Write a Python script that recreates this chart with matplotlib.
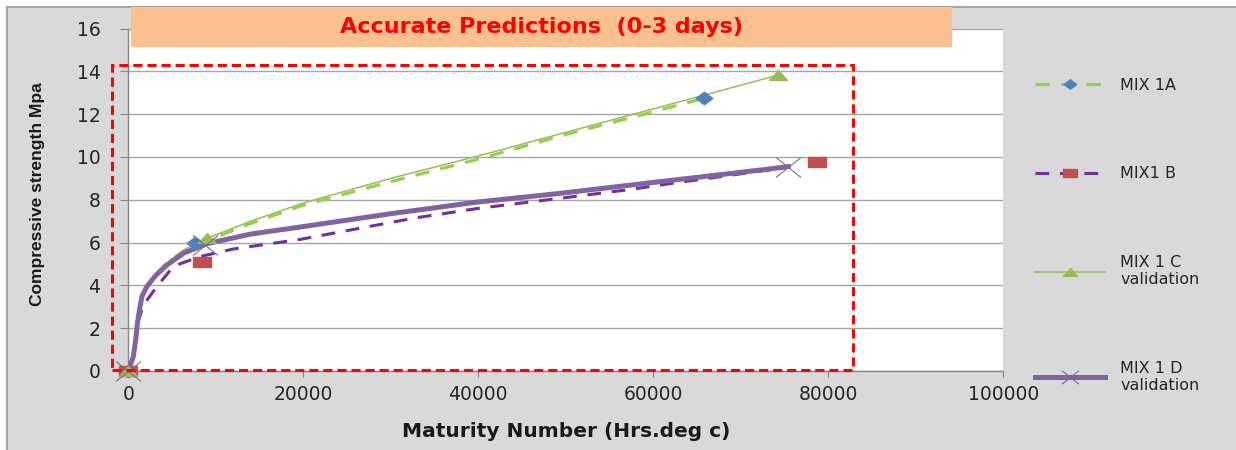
import matplotlib
matplotlib.use('Agg')
import matplotlib.pyplot as plt
from matplotlib.patches import Rectangle
from matplotlib.path import Path
import numpy as np

# curves (x = maturity, y = strength)
mix1a_x = [0, 570, 840, 1030, 1340, 1570, 2130, 3100, 4400, 6300, 7660, 10000, 14000, 20000, 30000, 40000, 50000, 58000, 65750]
mix1a_y = [0, 0.67, 1.45, 2.2, 3.0, 3.5, 3.95, 4.5, 5.05, 5.6, 5.95, 6.25, 6.9, 7.75, 8.85, 9.9, 11.05, 11.9, 12.74]
mix1a_mx = [0, 7660, 65750]
mix1a_my = [0, 6.0, 12.74]

mix1b_x = [0, 570, 840, 1100, 1750, 3280, 5180, 8230, 12000, 19650, 32600, 40000, 49330, 56960, 62670, 68000, 75000]
mix1b_y = [0, 0.67, 1.45, 2.3, 3.1, 3.95, 4.9, 5.35, 5.7, 6.15, 7.14, 7.6, 8.07, 8.46, 8.8, 9.1, 9.5]
mix1b_mx = [0, 8420, 78700]
mix1b_my = [0, 5.1, 9.78]

mix1c_x = [0, 570, 840, 1030, 1340, 1570, 2130, 3100, 4400, 6300, 9000, 14000, 20000, 30000, 40000, 50000, 60000, 74300]
mix1c_y = [0, 0.67, 1.45, 2.2, 3.0, 3.5, 3.95, 4.5, 5.05, 5.65, 6.2, 7.0, 7.85, 9.0, 10.05, 11.15, 12.25, 13.83]
mix1c_mx = [0, 9000, 74300]
mix1c_my = [0, 6.2, 13.83]

mix1d_x = [0, 570, 840, 1030, 1340, 1570, 2130, 3100, 4400, 6300, 9000, 14000, 20000, 30000, 40000, 49330, 60800, 72230, 75430]
mix1d_y = [0, 0.67, 1.45, 2.2, 3.0, 3.5, 3.95, 4.45, 4.95, 5.5, 5.95, 6.4, 6.75, 7.35, 7.9, 8.3, 8.85, 9.39, 9.55]
mix1d_mx = [0, 8800, 75430]
mix1d_my = [0, 5.9, 9.55]

labels = ['MIX 1A', 'MIX1 B', 'MIX 1 C\nvalidation', 'MIX 1 D\nvalidation']
x_ticks = [0, 20000, 40000, 60000, 80000, 100000]
y_ticks = [0, 2, 4, 6, 8, 10, 12, 14, 16]

# dashed highlight box (data units)
box_x0, box_x1 = -1860, 82860
box_y0, box_y1 = 0.05, 14.3

# wide markers (picture is stretched sideways)
sq = Path([(-1, -0.6), (1, -0.6), (1, 0.6), (-1, 0.6), (-1, -0.6)],
          [Path.MOVETO, Path.LINETO, Path.LINETO, Path.LINETO, Path.CLOSEPOLY])
tri = Path([(-1, -0.55), (1, -0.55), (0, 0.55), (-1, -0.55)],
           [Path.MOVETO, Path.LINETO, Path.LINETO, Path.CLOSEPOLY])
dia = Path([(-1, 0), (0, 0.75), (1, 0), (0, -0.75), (-1, 0)],
           [Path.MOVETO, Path.LINETO, Path.LINETO, Path.LINETO, Path.CLOSEPOLY])
cross = Path([(-1, -0.8), (1, 0.8), (-1, 0.8), (1, -0.8)],
             [Path.MOVETO, Path.LINETO, Path.MOVETO, Path.LINETO])

W, H = 1236, 450
fig = plt.figure(figsize=(W / 100, H / 100), dpi=100)
fig.patch.set_facecolor('white')
fig.patches.append(Rectangle((7 / W, -0.1), 1.1, 1.1 - 7 / H, transform=fig.transFigure,
                             facecolor='#d9d9d9', edgecolor='#a6a6a6', lw=1.5, zorder=-10))

ax = fig.add_axes([128.3 / W, 79 / H, 875 / W, 342.4 / H])
ax.set_facecolor('white')

green_d = '#92d050'
purple_d = '#7030a0'

# lines
ax.plot(mix1c_x, mix1c_y, color='#9bbb59', lw=1.1, zorder=3)
ax.plot(mix1a_x, mix1a_y, color=green_d, lw=2.3, dashes=(4.5, 3.5), zorder=3)
ax.plot(mix1b_x, mix1b_y, color=purple_d, lw=2.2, dashes=(4.5, 3.5), zorder=3)
ax.plot(mix1d_x, mix1d_y, color='#8064a2', lw=3.6, zorder=3)

# markers
ax.plot(mix1a_mx, mix1a_my, ls='', marker=dia, ms=12, color='#4f81bd', mec='#4f81bd', zorder=4, clip_on=False)
ax.plot(mix1b_mx, mix1b_my, ls='', marker=sq, ms=13, color='#c0504d', mec='#c0504d', zorder=4, clip_on=False)
ax.plot(mix1c_mx, mix1c_my, ls='', marker=tri, ms=13, color='#9bbb59', mec='#9bbb59', zorder=4, clip_on=False)
ax.plot(mix1d_mx, mix1d_my, ls='', marker=cross, ms=18, mfc='none', mec='#8064a2', mew=0.8, zorder=4, clip_on=False)

ax.set_xlim(0, 100000)
ax.set_ylim(0, 16)
ax.set_xticks(x_ticks)
ax.set_yticks(y_ticks)
ax.set_xticklabels([str(t) for t in x_ticks])
ax.grid(axis='y', color='#a6a6a6', lw=1.0)
ax.set_axisbelow(True)
for s in ['top', 'right']:
    ax.spines[s].set_visible(False)
for s in ['left', 'bottom']:
    ax.spines[s].set_color('#868686')
    ax.spines[s].set_linewidth(1.0)
ax.tick_params(axis='y', direction='out', length=6, color='#868686', labelsize=13.5, labelcolor='#262626', pad=14)
ax.tick_params(axis='x', direction='out', length=4, color='#868686', labelsize=13.5, labelcolor='#262626', pad=6)

ax.set_xlabel('Maturity Number (Hrs.deg c)', fontsize=14.5, fontweight='bold', color='#1a1a1a')
ax.xaxis.set_label_coords(0.5, -0.149)
ax.set_ylabel('Compressive strength Mpa', fontsize=12.5, fontweight='bold', color='#1a1a1a',
              family=['Liberation Sans', 'DejaVu Sans'])
ax.yaxis.set_label_coords(-0.0952, 0.517)

# red dashed highlight
ax.add_patch(Rectangle((box_x0, box_y0), box_x1 - box_x0, box_y1 - box_y0, fill=False,
                       edgecolor='#ff0000', lw=2.2, ls=(0, (3, 1.6)), clip_on=False, zorder=5))

# orange title banner
fig.patches.append(Rectangle((131 / W, 1 - 47 / H), (952 - 131) / W, 40 / H, transform=fig.transFigure,
                             facecolor='#fac090', edgecolor='none', zorder=5))
fig.text(541 / W, 1 - 27 / H, 'Accurate Predictions  (0-3 days)', ha='center', va='center',
         fontsize=16, fontweight='bold', color='#ff0000', zorder=6)

# legend
h_a, = ax.plot([], [], color=green_d, lw=2.3, dashes=(4.5, 3.5), marker=dia, ms=9, mfc='#4f81bd', mec='#4f81bd')
h_b, = ax.plot([], [], color=purple_d, lw=2.2, dashes=(4.5, 3.5), marker=sq, ms=10, mfc='#c0504d', mec='#c0504d')
h_c, = ax.plot([], [], color='#9bbb59', lw=1.1, marker=tri, ms=10, mfc='#9bbb59', mec='#9bbb59')
h_d, = ax.plot([], [], color='#8064a2', lw=3.6, marker=cross, ms=12, mfc='none', mec='#8064a2', mew=0.8)
leg = ax.legend([h_a, h_b, h_c, h_d], labels, loc='upper left',
                bbox_to_anchor=(1035 / W, 1 - 78 / H), bbox_transform=fig.transFigure,
                frameon=False, fontsize=11.5, numpoints=1, handlelength=4.4, handletextpad=0.95,
                borderpad=0, borderaxespad=0, labelspacing=4.6)
for t in leg.get_texts():
    t.set_color('#262626')

fig.savefig('out.png', dpi=100, facecolor=fig.get_facecolor())
